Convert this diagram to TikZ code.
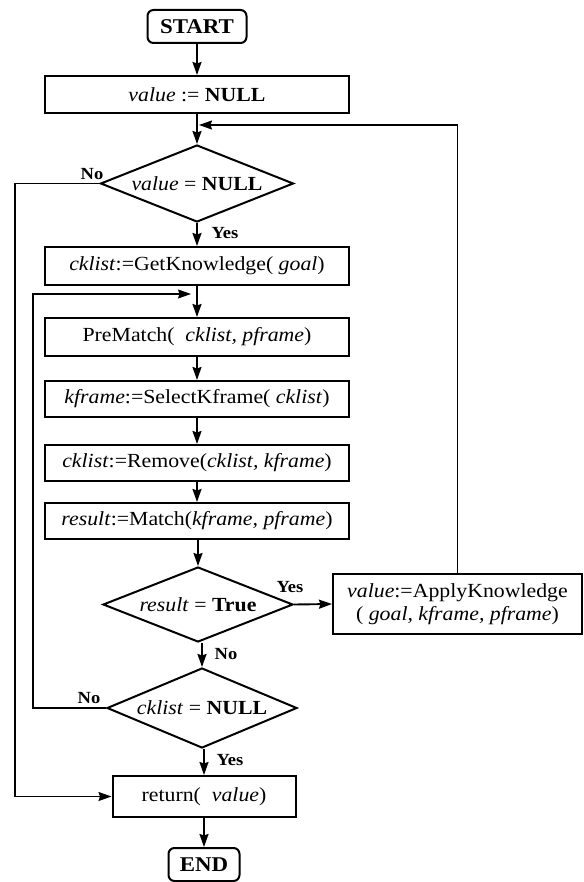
\documentclass[tikz,border=0pt]{standalone}
\usepackage{fontspec}
\setmainfont{Liberation Serif}[FakeStretch=1.09]
\usetikzlibrary{shapes.geometric,arrows.meta}

\tikzset{
  txt/.style={font=\fontsize{20pt}{23pt}\selectfont},
  proc/.style={txt, draw, line width=2pt, inner sep=0pt},
  term/.style={proc, rounded corners=6pt, font=\fontsize{21pt}{24pt}\selectfont\bfseries},
  dec/.style={txt, diamond, draw, line width=2pt, aspect=2.5, inner sep=0pt},
  tip/.style={-{Stealth[length=13pt,width=9pt,inset=1.5pt]}},
  arr/.style={tip, line width=1.9pt},
  loopline/.style={tip, line width=1.4pt},
  lbl/.style={font=\fontsize{17pt}{19pt}\selectfont\bfseries, inner sep=0pt}
}

\begin{document}
\begin{tikzpicture}[x=1pt,y=-1pt]
\useasboundingbox (0,0) rectangle (583,882);

% main column
\node[term, minimum width=99pt, minimum height=33pt] (start) at (197,26.5) {START};
\node[proc, minimum width=304pt, minimum height=37pt] (init) at (197,94.5) {\textit{value} := \textbf{NULL}};
\node[dec, minimum width=193pt, minimum height=77pt] (d1) at (197,183.5) {\textit{value} = \textbf{NULL}};
\node[proc, minimum width=304pt, minimum height=38pt] (get) at (197,266) {\textit{cklist}:=GetKnowledge( \textit{goal})};
\node[proc, minimum width=304pt, minimum height=38pt] (pre) at (197,337) {PreMatch(\ \ \textit{cklist, pframe})};
\node[proc, minimum width=304pt, minimum height=36pt] (sel) at (197,399) {\textit{kframe}:=SelectKframe( \textit{cklist})};
\node[proc, minimum width=304pt, minimum height=36pt] (rem) at (197,463) {\textit{cklist}:=Remove(\textit{cklist, kframe})};
\node[proc, minimum width=304pt, minimum height=36pt] (mat) at (197,521) {\textit{result}:=Match(\textit{kframe, pframe})};
\node[dec, minimum width=190pt, minimum height=75pt] (d2) at (198,604.5) {\textit{result} = \textbf{True}};
\node[proc, minimum width=249pt, minimum height=60pt, align=center] (apply) at (457.5,604)
  {\textit{value}:=ApplyKnowledge\\( \textit{goal, kframe, pframe})};
\node[dec, minimum width=190pt, minimum height=80pt] (d3) at (202,708) {\textit{cklist} = \textbf{NULL}};
\node[proc, minimum width=183pt, minimum height=41pt] (ret) at (204,796.5) {return(\ \ \textit{value})};
\node[term, minimum width=71pt, minimum height=33pt] (end) at (204,864.5) {END};

% junction points on the main line
\coordinate (j1) at (197,125);
\coordinate (j2) at (197,294);

% straight flow
\draw[arr] (start) -- (init);
\draw[arr] (init) -- (d1);
\draw[arr] (d1) -- (get);
\draw[arr] (get) -- (pre);
\draw[arr] (pre) -- (sel);
\draw[arr] (sel) -- (rem);
\draw[arr] (rem) -- (mat);
\draw[arr] (d2.north |- mat.south) -- (d2.north);
\draw[arr] (d3.north |- d2.south) -- (d3.north);
\draw[arr] (ret.north |- d3.south) -- (ret.north);
\draw[arr] (ret) -- (end);
\draw[arr] (d2.east) -- (apply.west);

% loop back from ApplyKnowledge to the first test
\draw[loopline, shorten >=2pt] (apply.north) |- (j1);
% loop back from the second test to PreMatch
\draw[loopline, shorten >=6pt] (d3.west) -- (33,708) |- (j2);
% exit from the first test to return
\draw[loopline] (d1.west) -- (15,183.5) |- (ret.west);

% branch labels
\node[lbl] (n1) at (92,174) {No};
\node[lbl] (y1) at (225,233) {Yes};
\node[lbl] (y2) at (290,587) {Yes};
\node[lbl] (n2) at (226,654) {No};
\node[lbl] (n3) at (89,698) {No};
\node[lbl] (y3) at (230,760) {Yes};
\end{tikzpicture}
\end{document}
